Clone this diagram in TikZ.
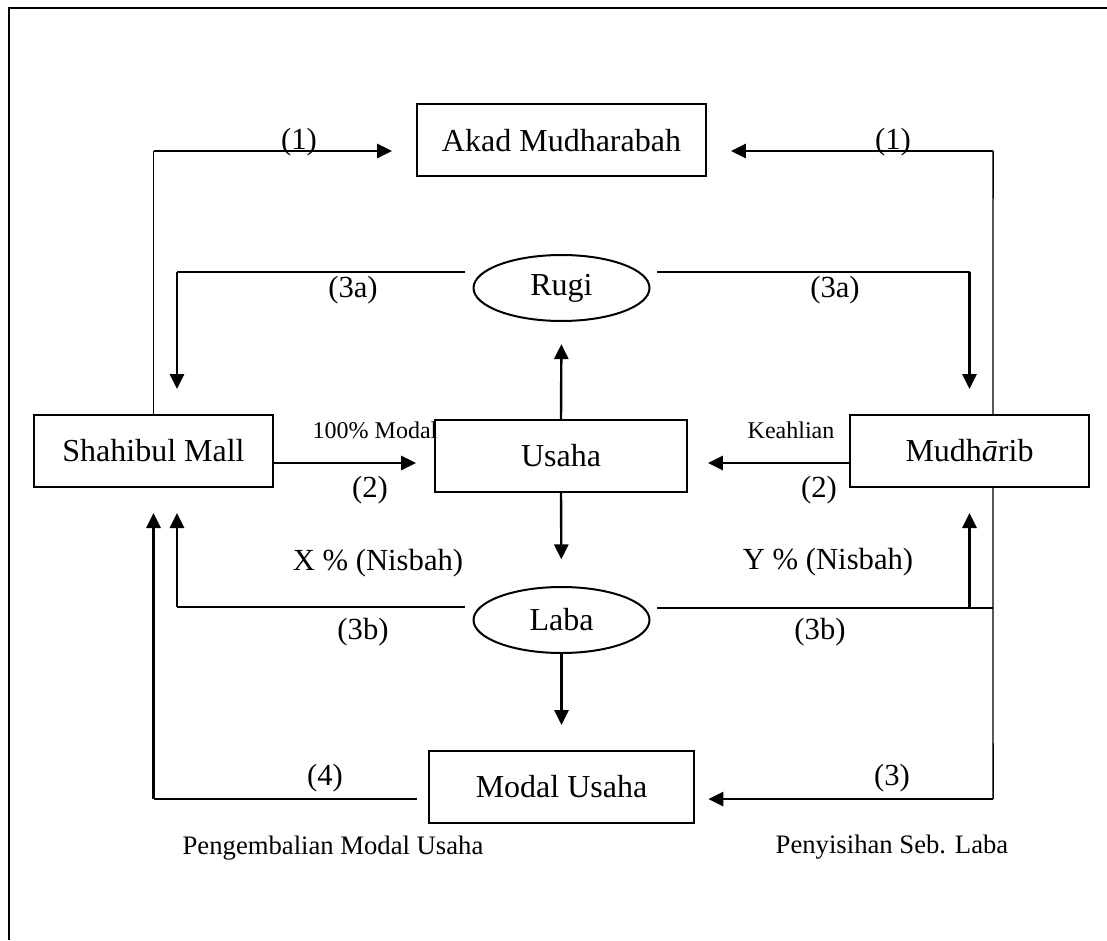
\documentclass[tikz,border=0pt]{standalone}
\usepackage{fontspec}
\setmainfont{Liberation Serif}
\usetikzlibrary{positioning,arrows.meta,shapes.geometric,calc}
\tikzset{
  box/.style={draw, line width=0.75pt, minimum height=27pt, inner sep=0pt, font=\fontsize{12}{14}\selectfont},
  oval/.style={draw, ellipse, line width=0.75pt, minimum width=66pt, minimum height=24.75pt, inner sep=0pt, font=\fontsize{12}{14}\selectfont},
  lbl/.style={inner sep=0pt, font=\fontsize{11.5}{13}\selectfont},
  note/.style={inner sep=0pt, font=\fontsize{10}{12}\selectfont},
  tiny note/.style={inner sep=0pt, font=\fontsize{9}{11}\selectfont},
  ln/.style={line width=0.55pt},
  arr/.style={line width=0.9pt, -{Triangle[length=5.6pt, width=5.3pt]}},
}

\begin{document}
\begin{tikzpicture}[x=0.375pt, y=-0.375pt]
  \useasboundingbox (0,0) rectangle (1107,940);
  \draw[line width=0.9pt] (9,940) -- (9,8) -- (1107,8);
  % boxes and ovals
  \node[box, minimum width=108.4pt] (akad) at (561.5,140.5) {Akad Mudharabah};
  \node[box, minimum width=89.6pt] (shahib) at (153.5,451) {Shahibul Mall};
  \node[box, minimum width=94.5pt] (usaha) at (561,456) {Usaha};
  \node[box, minimum width=89.6pt] (mudharib) at (969.5,451) {Mudh\textit{ā}rib};
  \node[box, minimum width=99.4pt] (modal) at (561.5,787) {Modal Usaha};
  \node[oval] (rugi) at (561.5,288) {Rugi};
  \node[oval] (laba) at (561.5,620) {Laba};
  % corners and free ends
  \coordinate (k1l) at (153.5,151);
  \coordinate (k1r) at (993,151);
  \coordinate (k3al) at (177,272);
  \coordinate (k3ar) at (969.5,272);
  \coordinate (k3bl) at (177,607);
  \coordinate (k3br) at (993,608);
  \coordinate (k3bi) at (969.5,608);
  \coordinate (k4) at (153.5,799);
  \coordinate (k3) at (993,799);
  \coordinate (e3al) at (465,272);
  \coordinate (e3ar) at (657,272);
  \coordinate (e3bl) at (465,607);
  \coordinate (e3br) at (657,608);
  \coordinate (e4) at (417,799);
  \coordinate (s2) at ([yshift=-4.5pt]shahib.east);
  \coordinate (m2) at ([yshift=-4.5pt]mudharib.west);
  % (1)
  \draw[ln] (shahib.north) -- (k1l);
  \draw[arr, shorten >=9pt] (k1l) -- (k1l -| akad.west);
  \draw[ln] ([xshift=8.8pt]mudharib.north) -- (k1r);
  \draw[arr, shorten >=9pt] (k1r) -- (k1r -| akad.east);
  % (3a)
  \draw[ln] (e3al) -- (k3al);
  \draw[arr, shorten >=9.4pt] (k3al) -- (k3al |- shahib.north);
  \draw[ln] (e3ar) -- (k3ar);
  \draw[arr, shorten >=9.4pt] (k3ar) -- (k3ar |- mudharib.north);
  % usaha
  \draw[arr, shorten >=8.3pt] (usaha.north) -- (rugi.south);
  \draw[arr, shorten >=10pt] (usaha.south) -- (laba.north);
  % (2)
  \draw[arr, shorten >=6.75pt] (s2) -- (s2 -| usaha.west);
  \draw[arr, shorten >=7.5pt] (m2) -- (m2 -| usaha.east);
  % (3b)
  \draw[ln] (e3bl) -- (k3bl);
  \draw[arr, shorten >=9.4pt] (k3bl) -- (k3bl |- shahib.south);
  \draw[ln] (e3br) -- (k3br);
  \draw[arr, shorten >=9.4pt] (k3bi) -- (k3bi |- mudharib.south);
  % (3) and (4)
  \draw[ln] ([xshift=8.8pt]mudharib.south) -- (k3);
  \draw[arr, shorten >=5pt] (k3) -- (k3 -| modal.east);
  \draw[arr, shorten >=9.4pt] (laba.south) -- (modal.north);
  \draw[ln] (e4) -- (k4);
  \draw[arr, shorten >=9.4pt] (k4) -- (shahib.south);
  % labels
  \node[lbl] (l1l) at (299,142) {(1)};
  \node[lbl] (l1r) at (893,142) {(1)};
  \node[lbl] (l3al) at (353,290) {(3a)};
  \node[lbl] (l3ar) at (835,290) {(3a)};
  \node[tiny note] (modal100) at (375,430) {100\% Modal};
  \node[tiny note] (ahli) at (791,430) {Keahlian};
  \node[lbl] (l2l) at (370,490) {(2)};
  \node[lbl] (l2r) at (819,490) {(2)};
  \node[lbl] (nisx) at (378,563) {X \% (Nisbah)};
  \node[lbl] (nisy) at (828,562) {Y \% (Nisbah)};
  \node[lbl] (l3bl) at (363,632) {(3b)};
  \node[lbl] (l3br) at (820,632) {(3b)};
  \node[lbl] (l4) at (325,778) {(4)};
  \node[lbl] (l3) at (892,778) {(3)};
  \node[note] (kembali) at (333,848) {Pengembalian Modal Usaha};
  \node[note] (sisih) at (892,847) {Penyisihan Seb. Laba};
\end{tikzpicture}
\end{document}
